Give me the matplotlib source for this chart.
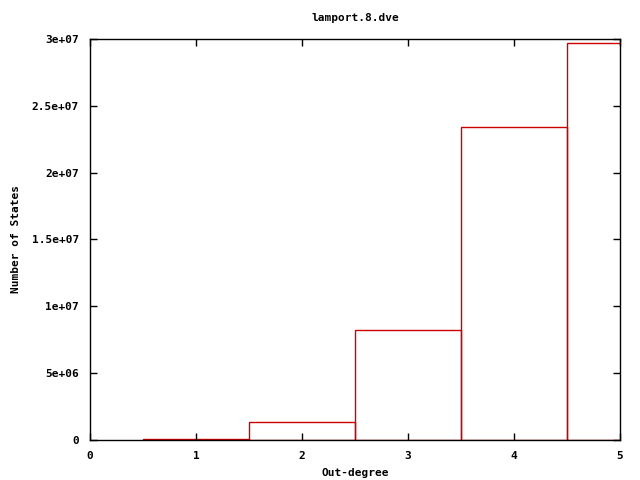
import matplotlib
matplotlib.use("Agg")
import matplotlib.pyplot as plt

# Données : nombre d'états par degré sortant
degrees = [1, 2, 3, 4, 5]
states = [1.0e5, 1.38e6, 8.26e6, 2.345e7, 2.97e7]
yticks = [0, 5e6, 1e7, 1.5e7, 2e7, 2.5e7, 3e7]
ylabels = ["0", "5e+06", "1e+07", "1.5e+07", "2e+07", "2.5e+07", "3e+07"]

plt.rcParams["font.family"] = "DejaVu Sans Mono"
plt.rcParams["font.size"] = 8
plt.rcParams["font.weight"] = "bold"

fig = plt.figure(figsize=(6.4, 4.8), dpi=100)
ax = fig.add_axes([90 / 640, 1 - 440 / 480, 530 / 640, 401 / 480])

ax.bar(degrees, states, width=1.0, fill=False, edgecolor="#cc0000", linewidth=1)

ax.set_xlim(0, 5)
ax.set_ylim(0, 3e7)
ax.set_xticks(range(6))
ax.set_yticks(yticks)
ax.set_yticklabels(ylabels)
ax.tick_params(direction="in", top=True, right=True, length=5, width=1, pad=8)
for s in ax.spines.values():
    s.set_linewidth(1)

ax.set_title("lamport.8.dve", fontsize=8, fontweight="bold", pad=13)
ax.set_xlabel("Out-degree", fontweight="bold", labelpad=5)
ax.set_ylabel("Number of States", fontweight="bold", labelpad=8)

fig.savefig("out.png", dpi=100)
